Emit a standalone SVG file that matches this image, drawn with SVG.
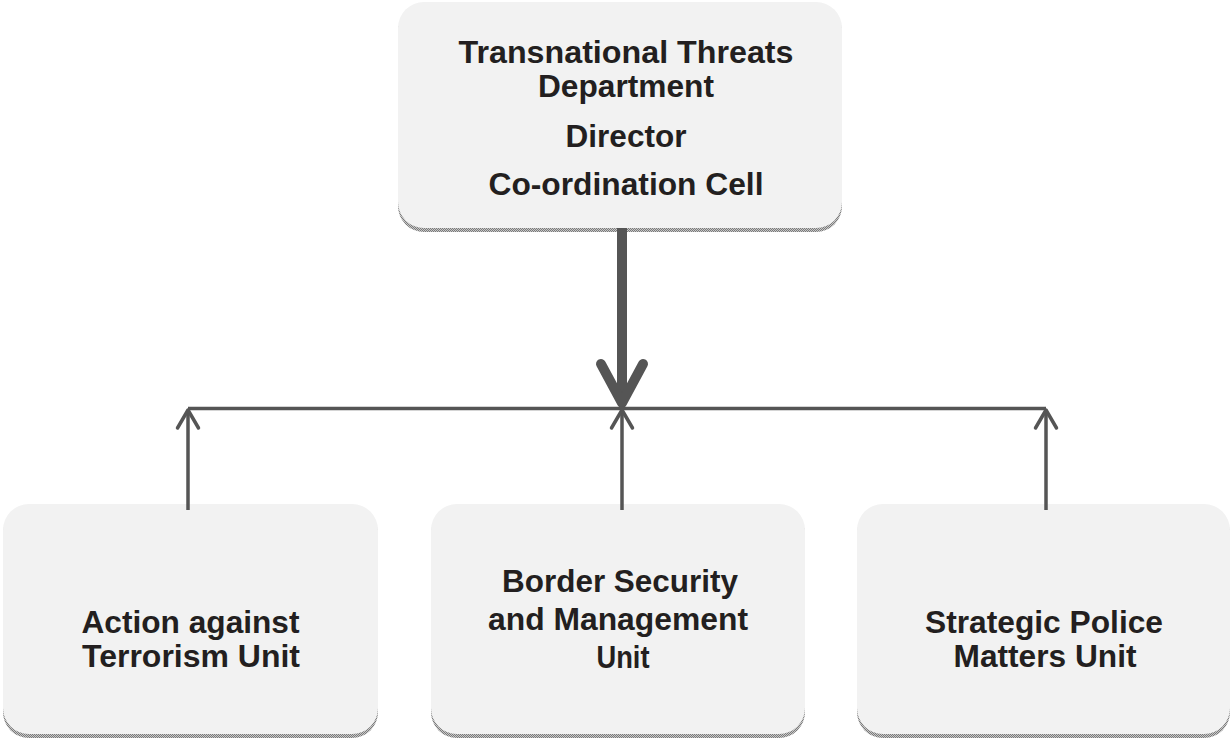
<svg xmlns="http://www.w3.org/2000/svg" width="1232" height="742" viewBox="0 0 1232 742">
  <defs>
    <pattern id="dots" width="2" height="2" patternUnits="userSpaceOnUse">
      <rect width="2" height="2" fill="#c8c8c8"/>
      <rect width="1" height="1" fill="#7a7a7a"/>
      <rect x="1" y="1" width="1" height="1" fill="#7a7a7a"/>
    </pattern>
    <marker id="headSmall" markerUnits="userSpaceOnUse" viewBox="0 0 30 30" refX="27" refY="15" markerWidth="30" markerHeight="30" orient="auto">
      <path d="M9,4.5 L27,15 L9,25.5" fill="none" stroke="#555555" stroke-width="3.5" stroke-linecap="round" stroke-linejoin="round"/>
    </marker>
  </defs>
  <style>
    .box { fill: #f2f2f2; }
    .shadow { fill: url(#dots); }
    .lbl { font-family: "Liberation Sans", Arial, Helvetica, sans-serif; font-weight: bold; fill: #231f20; text-anchor: middle; font-size: 31px; }
    .conn { stroke: #555555; fill: none; }
  </style>
  <rect width="1232" height="742" fill="#ffffff"/>

  <g id="node-top">
    <rect class="shadow" x="398" y="6" width="444" height="226" rx="26"/>
    <rect class="box" x="398" y="2" width="444" height="226" rx="26"/>
    <text class="lbl" x="626" y="63" textLength="335" lengthAdjust="spacingAndGlyphs">Transnational Threats</text>
    <text class="lbl" x="626" y="97" textLength="176" lengthAdjust="spacingAndGlyphs">Department</text>
    <text class="lbl" x="626" y="147" textLength="121" lengthAdjust="spacingAndGlyphs">Director</text>
    <text class="lbl" x="626" y="195" textLength="275" lengthAdjust="spacingAndGlyphs">Co-ordination Cell</text>
  </g>

  <g id="node-terrorism">
    <rect class="shadow" x="3" y="508" width="375" height="230" rx="26"/>
    <rect class="box" x="3" y="504" width="375" height="230" rx="26"/>
    <text class="lbl" x="190.5" y="633" textLength="218" lengthAdjust="spacingAndGlyphs">Action against</text>
    <text class="lbl" x="191" y="667" textLength="218" lengthAdjust="spacingAndGlyphs">Terrorism Unit</text>
  </g>

  <g id="node-border">
    <rect class="shadow" x="431" y="508" width="374" height="230" rx="26"/>
    <rect class="box" x="431" y="504" width="374" height="230" rx="26"/>
    <text class="lbl" x="620" y="592" textLength="236" lengthAdjust="spacingAndGlyphs">Border Security</text>
    <text class="lbl" x="618" y="630" textLength="260" lengthAdjust="spacingAndGlyphs">and Management</text>
    <text class="lbl" x="623" y="668" textLength="53" lengthAdjust="spacingAndGlyphs">Unit</text>
  </g>

  <g id="node-police">
    <rect class="shadow" x="857" y="508" width="373" height="230" rx="26"/>
    <rect class="box" x="857" y="504" width="373" height="230" rx="26"/>
    <text class="lbl" x="1044" y="633" textLength="238" lengthAdjust="spacingAndGlyphs">Strategic Police</text>
    <text class="lbl" x="1045" y="667" textLength="183" lengthAdjust="spacingAndGlyphs">Matters Unit</text>
  </g>

  <g id="connectors">
    <line class="conn" x1="622" y1="228" x2="622" y2="400" stroke-width="10"/>
    <path class="conn" d="M601,364 L622,403 L643,364" stroke-width="10" stroke-linecap="round" stroke-linejoin="round"/>
    <line class="conn" x1="188" y1="408.5" x2="1046" y2="408.5" stroke-width="3.5"/>
    <line class="conn" x1="188" y1="510" x2="188" y2="410" stroke-width="3.5" marker-end="url(#headSmall)"/>
    <line class="conn" x1="622" y1="510" x2="622" y2="410" stroke-width="3.5" marker-end="url(#headSmall)"/>
    <line class="conn" x1="1046" y1="510" x2="1046" y2="410" stroke-width="3.5" marker-end="url(#headSmall)"/>
  </g>
</svg>
